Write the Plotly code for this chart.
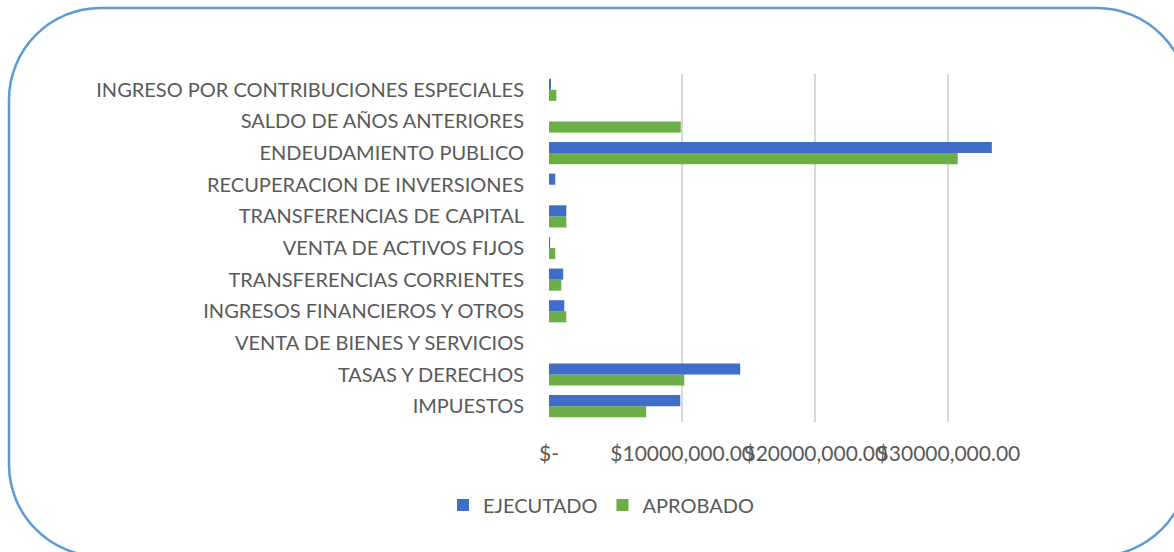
import plotly.graph_objects as go

categories = [
    "IMPUESTOS",
    "TASAS Y DERECHOS",
    "VENTA DE BIENES Y SERVICIOS",
    "INGRESOS FINANCIEROS Y OTROS",
    "TRANSFERENCIAS CORRIENTES",
    "VENTA DE ACTIVOS FIJOS",
    "TRANSFERENCIAS DE CAPITAL",
    "RECUPERACION DE INVERSIONES",
    "ENDEUDAMIENTO PUBLICO",
    "SALDO DE AÑOS ANTERIORES",
    "INGRESO POR CONTRIBUCIONES ESPECIALES",
]
ejecutado = [9860000, 14360000, 0, 1150000, 1070000, 20000, 1300000, 470000, 33260000, 0, 110000]
aprobado = [7300000, 10160000, 0, 1300000, 920000, 470000, 1300000, 0, 30700000, 9900000, 550000]

tick_vals = [0, 10000000, 20000000, 30000000]
tick_text = ["$-", "$10000,000.00", "$20000,000.00", "$30000,000.00"]

W, H = 1174, 552
L, R, T, B = 548.7, 1015.3, 74, 421.7
FONT = "Lato"
GREY = "#595959"

fig = go.Figure()
fig.add_trace(go.Bar(y=categories, x=aprobado, orientation="h", name="APROBADO",
                     marker=dict(color="#6BAE45", line=dict(width=0))))
fig.add_trace(go.Bar(y=categories, x=ejecutado, orientation="h", name="EJECUTADO",
                     marker=dict(color="#3F6DC8", line=dict(width=0))))


def px2paper(px, py):
    return (px - L) / (R - L), (B - py) / (B - T)


# rounded border of the chart area
x0, y0, x1, y1, r = 8, 8, 1189, 556, 92
k = 0.5523 * r
pts = [
    ("M", [(x0 + r, y0)]),
    ("L", [(x1 - r, y0)]),
    ("C", [(x1 - r + k, y0), (x1, y0 + r - k), (x1, y0 + r)]),
    ("L", [(x1, y1 - r)]),
    ("C", [(x1, y1 - r + k), (x1 - r + k, y1), (x1 - r, y1)]),
    ("L", [(x0 + r, y1)]),
    ("C", [(x0 + r - k, y1), (x0, y1 - r + k), (x0, y1 - r)]),
    ("L", [(x0, y0 + r)]),
    ("C", [(x0, y0 + r - k), (x0 + r - k, y0), (x0 + r, y0)]),
]
path = ""
for cmd, ps in pts:
    path += cmd + " " + " ".join("%.5f,%.5f" % px2paper(a, b) for a, b in ps) + " "
path += "Z"

fig.add_shape(type="path", path=path, xref="paper", yref="paper",
              line=dict(color="#5B9BD5", width=2.5), fillcolor="rgba(0,0,0,0)", layer="below")

fig.update_layout(
    width=W, height=H,
    margin=dict(l=L, r=W - R, t=T, b=H - B, pad=0, autoexpand=False),
    paper_bgcolor="white", plot_bgcolor="white",
    barmode="group", bargap=0.3, bargroupgap=0,
    font=dict(family=FONT, size=20, color=GREY),
    showlegend=True,
    legend=dict(orientation="h", traceorder="reversed", xref="container", yref="container",
                x=601 / W, y=1 - 505 / H, xanchor="center", yanchor="middle",
                font=dict(family=FONT, size=20, color=GREY), itemwidth=30),
    xaxis=dict(range=[0, 35000000], tickvals=tick_vals, ticktext=tick_text,
               tickangle=0, automargin=False,
               showgrid=True, gridcolor="#D9D9D9", gridwidth=1.5, zeroline=False,
               showline=False, ticks="", ticklabelstandoff=17,
               tickfont=dict(family=FONT, size=21, color=GREY), fixedrange=True),
    yaxis=dict(type="category", categoryorder="array", categoryarray=categories,
               automargin=False,
               showgrid=False, zeroline=False, showline=False, ticks="",
               ticklabelstandoff=24, tickfont=dict(family=FONT, size=20, color=GREY),
               fixedrange=True),
)

fig.write_html("out.html", post_script="document.body.style.margin='0';",
               config={"displayModeBar": False})
